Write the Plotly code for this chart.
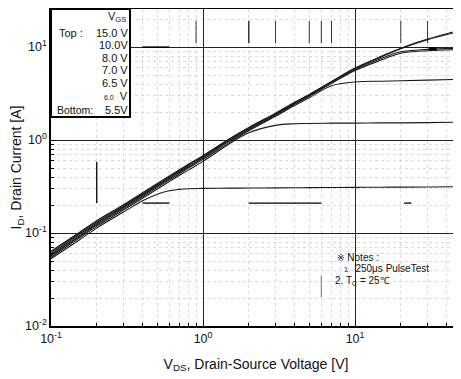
import plotly.graph_objects as go

# ---------------- data ----------------
vds = [0.1, 0.15, 0.2, 0.3, 0.4, 0.5, 0.6, 0.7, 0.8, 1.0, 1.5, 2, 3, 4, 5, 7, 10, 15, 20, 30, 49]
id_15v = [0.064, 0.099, 0.136, 0.202, 0.272, 0.342, 0.41, 0.48, 0.55, 0.68, 1.04, 1.37, 1.95, 2.55, 3.1, 4.27, 5.95, 8.0, 9.75, 12.2, 15.2]
id_10v = [0.062, 0.097, 0.133, 0.198, 0.266, 0.335, 0.40, 0.47, 0.54, 0.67, 1.02, 1.35, 1.92, 2.52, 3.06, 4.22, 5.88, 7.9, 9.6, 12.0, 14.8]
id_8v = [0.060, 0.094, 0.129, 0.193, 0.26, 0.327, 0.392, 0.46, 0.525, 0.655, 1.0, 1.32, 1.89, 2.48, 3.02, 4.15, 5.75, 7.6, 8.9, 9.45, 9.75]
id_7v = [0.058, 0.091, 0.125, 0.188, 0.253, 0.318, 0.383, 0.45, 0.51, 0.64, 0.98, 1.29, 1.85, 2.43, 2.96, 4.05, 5.6, 7.3, 8.6, 9.15, 9.4]
id_65v = [0.057, 0.089, 0.122, 0.183, 0.246, 0.31, 0.373, 0.435, 0.50, 0.62, 0.95, 1.26, 1.80, 2.35, 2.85, 3.85, 4.22, 4.3, 4.35, 4.42, 4.5]
id_6v = [0.055, 0.086, 0.118, 0.177, 0.237, 0.298, 0.358, 0.418, 0.475, 0.59, 0.92, 1.2, 1.44, 1.5, 1.51, 1.52, 1.52, 1.53, 1.53, 1.54, 1.56]
id_55v = [0.053, 0.082, 0.113, 0.168, 0.222, 0.262, 0.285, 0.295, 0.30, 0.302, 0.304, 0.305, 0.306, 0.307, 0.308, 0.309, 0.31, 0.311, 0.312, 0.313, 0.315]

series = [id_15v, id_10v, id_8v, id_7v, id_65v, id_6v, id_55v]

x_major = [0.1, 1, 10]
x_major_text = ["10<sup>-1</sup>", "10<sup>0</sup>", "10<sup>1</sup>"]
y_major = [0.01, 0.1, 1, 10]
y_major_text = ["10<sup>-2</sup>", "10<sup>-1</sup>", "10<sup>0</sup>", "10<sup>1</sup>"]
x_minor = [0.2, 0.3, 0.4, 0.5, 0.6, 0.7, 0.8, 0.9, 2, 3, 4, 5, 6, 7, 8, 9, 20, 30, 40]
y_minor = [0.02, 0.03, 0.04, 0.05, 0.06, 0.07, 0.08, 0.09, 0.2, 0.3, 0.4, 0.5, 0.6, 0.7, 0.8, 0.9,
           2, 3, 4, 5, 6, 7, 8, 9, 20]

legend_title = "V<sub>GS</sub>"
legend_values = ["15.0 V", "10.0V", "8.0 V", "7.0 V", "6.5 V", "<span style='font-size:7px'>6.0</span>  V", "5.5V"]
notes = ["<span style='font-family:DejaVu Sans;font-size:9px'>※</span> Notes :",
         "<span style='font-size:7px'>1.</span>  250μs PulseTest",
         "2. T<sub>C</sub> = 25℃"]

# scan artifacts of the original sheet (data coordinates)
art_vticks_x = [0.9, 2, 3, 5, 6, 7, 20, 30]

FONT = "Liberation Sans, Arial"
OFF = 8  # page body margin of the browser
# plot area in screenshot pixels: left 51, right 461, top 9, bottom 326
ML, MT = 51 - OFF, 9 - OFF
PW, PH = 410, 317
MR = 0
MB = 379 - OFF - MT - PH
W, H = ML + PW + MR, MT + PH + MB


def px(x):
    return (x - 51) / PW


def py(y):
    return 1 - (y - 9) / PH


fig = go.Figure()
for s in series:
    fig.add_trace(go.Scatter(x=vds, y=s, mode="lines", line=dict(color="#1a1a1a", width=1.1, shape="spline"),
                             showlegend=False, hoverinfo="skip"))

axis_common = dict(type="log", showline=True, linecolor="black", linewidth=1.5, ticks="inside", ticklen=5,
                   tickcolor="black", showgrid=True, gridcolor="#222", gridwidth=1, zeroline=False,
                   tickfont=dict(family=FONT, size=12.5, color="#111"), tickmode="array", automargin=False)

fig.update_xaxes(**axis_common, range=[-1, 1.697], tickvals=x_major, ticktext=x_major_text, mirror=True,
                 minor=dict(tickmode="array", tickvals=x_minor, ticks="inside", ticklen=3, tickcolor="black",
                            showgrid=True, gridcolor="#dadada", griddash="dot", gridwidth=1),
                 title=dict(text="V<sub>DS</sub>, Drain-Source Voltage [V]", font=dict(family=FONT, size=14, color="#111"),
                            standoff=14))
fig.update_yaxes(**axis_common, range=[-2, 1.41], tickvals=y_major, ticktext=y_major_text,
                 minor=dict(tickmode="array", tickvals=y_minor, ticks="inside", ticklen=3, tickcolor="black",
                            showgrid=True, gridcolor="#dadada", griddash="dot", gridwidth=1),
                 title=dict(text="I<sub>D</sub>, Drain Current [A]", font=dict(family=FONT, size=14, color="#111"),
                            standoff=6))

shapes = []
# legend box
shapes.append(dict(type="rect", xref="paper", yref="paper", x0=0, x1=px(130), y0=py(117), y1=1,
                   line=dict(color="black", width=2), fillcolor="white", layer="above"))
# notes box (white, covers grid)
shapes.append(dict(type="rect", xref="paper", yref="paper", x0=px(330), x1=px(436), y0=py(294), y1=py(245),
                   line=dict(width=0), fillcolor="white", layer="between"))
# artifacts
for xv in art_vticks_x:
    shapes.append(dict(type="line", xref="x", yref="y", x0=xv, x1=xv, y0=11.0, y1=19.2,
                       line=dict(color="#333", width=1.5 if xv == 2 else 1)))
shapes.append(dict(type="line", xref="x", yref="y", x0=0.4, x1=0.6, y0=10, y1=10, line=dict(color="black", width=1.5)))
shapes.append(dict(type="line", xref="x", yref="y", x0=0.2, x1=0.2, y0=0.21, y1=0.58, line=dict(color="black", width=1.3)))
for a, b in [(0.4, 0.6), (2, 6), (21, 23.5)]:
    shapes.append(dict(type="line", xref="x", yref="y", x0=a, x1=b, y0=0.21, y1=0.21, line=dict(color="black", width=1.3)))
shapes.append(dict(type="line", xref="x", yref="y", x0=30.5, x1=34.4, y0=9.6, y1=9.6, line=dict(color="black", width=3)))
shapes.append(dict(type="line", xref="x", yref="y", x0=6, x1=6, y0=0.0205, y1=0.035, line=dict(color="#888", width=1.2)))

ann = []
tf = dict(family=FONT, size=11, color="#111")
ann.append(dict(x=px(128), y=py(17), xref="paper", yref="paper", text=legend_title, showarrow=False,
                xanchor="right", yanchor="middle", font=tf))
ann.append(dict(x=px(57), y=py(33), xref="paper", yref="paper", text="Top :", showarrow=False,
                xanchor="left", yanchor="middle", font=tf))
ann.append(dict(x=px(55), y=py(110), xref="paper", yref="paper", text="Bottom:", showarrow=False,
                xanchor="left", yanchor="middle", font=dict(family=FONT, size=10.5, color="#111")))
rows_y = [33, 45, 58, 70, 83, 96, 110]
for t, yy in zip(legend_values, rows_y):
    ann.append(dict(x=px(130), y=py(yy), xref="paper", yref="paper", text=t, showarrow=False,
                    xanchor="right", yanchor="middle", font=tf))
nf = dict(family=FONT, size=10, color="#111")
for t, xx, yy in zip(notes, [335, 342, 333], [257, 268, 281]):
    ann.append(dict(x=px(xx), y=py(yy), xref="paper", yref="paper", text=t, showarrow=False,
                    xanchor="left", yanchor="middle", font=nf))

fig.update_layout(width=W, height=H, margin=dict(l=ML, r=MR, t=MT, b=MB), plot_bgcolor="white",
                  paper_bgcolor="white", shapes=shapes, annotations=ann, showlegend=False)
fig.write_html("out.html")
